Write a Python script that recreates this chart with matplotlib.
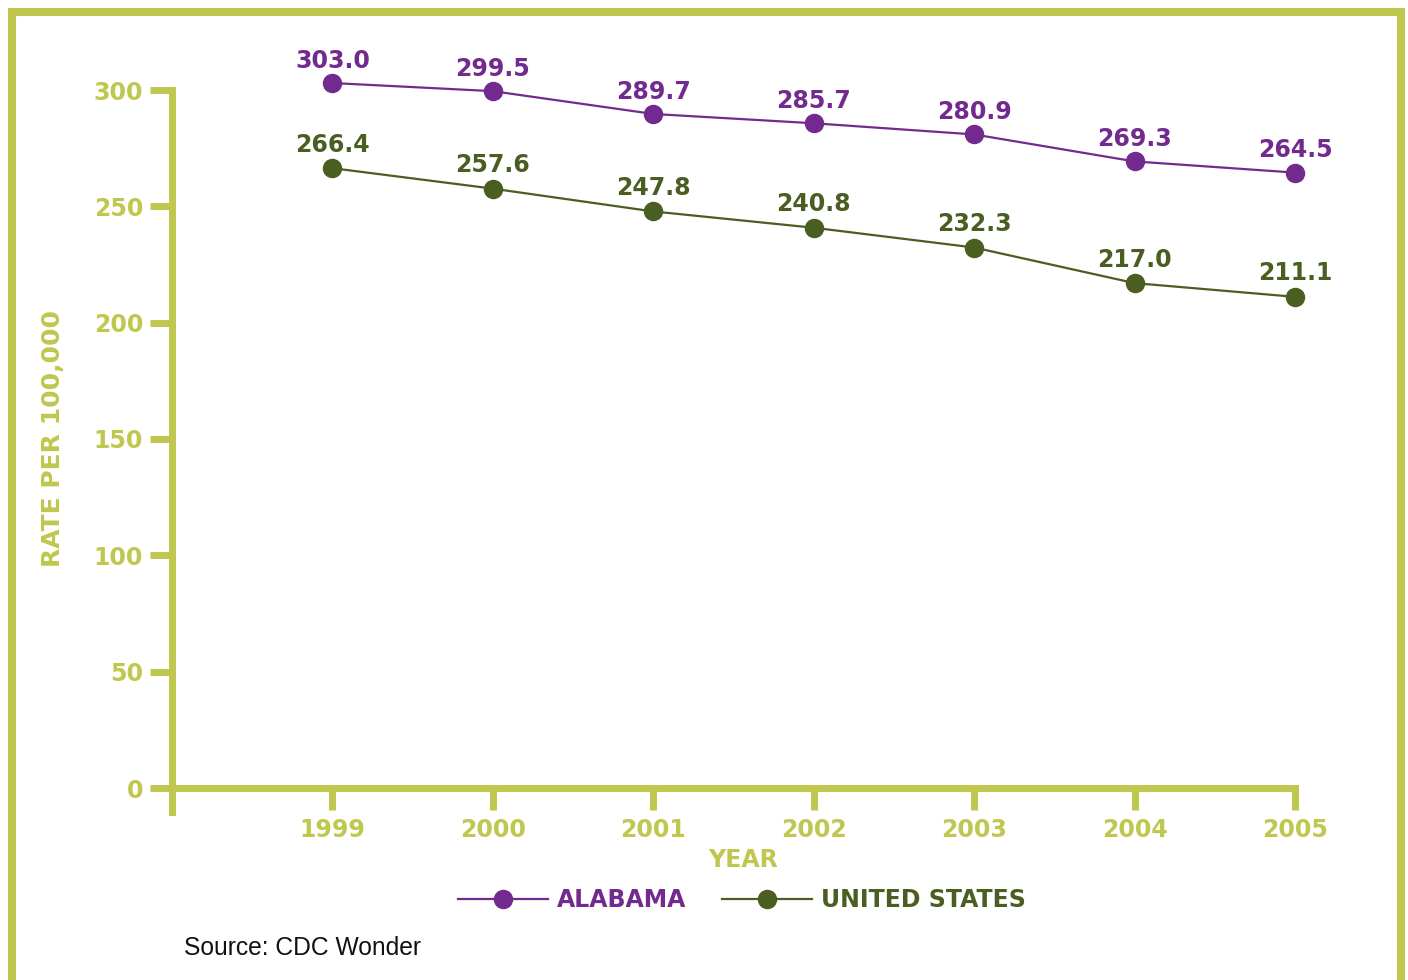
import matplotlib
matplotlib.use('Agg')
import matplotlib.pyplot as plt
from matplotlib.patches import Rectangle

# data
years = [1999, 2000, 2001, 2002, 2003, 2004, 2005]
alabama = [303.0, 299.5, 289.7, 285.7, 280.9, 269.3, 264.5]
united_states = [266.4, 257.6, 247.8, 240.8, 232.3, 217.0, 211.1]
y_ticks = [0, 50, 100, 150, 200, 250, 300]

LIME = '#BFC74F'
PURPLE = '#722A8E'
GREEN = '#4A5E22'
FONT = 'DejaVu Sans'
FS = 17

W, H = 1408, 980
fig = plt.figure(figsize=(W / 100, H / 100), dpi=100)
fig.patch.set_facecolor('white')

# outer frame
fig.patches.append(Rectangle((12 / W, 1 - 983 / H), 1389 / W, 971 / H,
                             transform=fig.transFigure, fill=False,
                             edgecolor=LIME, linewidth=5.8, clip_on=False))

ax = fig.add_axes([172 / W, 1 - 788 / H, (1295 - 172) / W, (788 - 90) / H])
ax.set_xlim(1998, 2005)
ax.set_ylim(0, 300)

ax.plot(years, alabama, color=PURPLE, lw=1.6, marker='o', ms=13,
        label='ALABAMA', clip_on=False, zorder=3)
ax.plot(years, united_states, color=GREEN, lw=1.6, marker='o', ms=13,
        label='UNITED STATES', clip_on=False, zorder=3)

for x, v in zip(years, alabama):
    ax.annotate(f'{v:.1f}', (x, v), xytext=(0, 16), textcoords='offset points',
                ha='center', va='center', color=PURPLE, fontsize=FS,
                fontweight='bold', family=FONT, annotation_clip=False)
for x, v in zip(years, united_states):
    ax.annotate(f'{v:.1f}', (x, v), xytext=(0, 17), textcoords='offset points',
                ha='center', va='center', color=GREEN, fontsize=FS,
                fontweight='bold', family=FONT, annotation_clip=False)

# axes styling
for s in ['top', 'right']:
    ax.spines[s].set_visible(False)
for s in ['left', 'bottom']:
    ax.spines[s].set_color(LIME)
    ax.spines[s].set_linewidth(5)
ax.spines['left'].set_bounds(-10.3, 300)
ax.spines['bottom'].set_bounds(1998, 2005)

ax.set_xticks(years)
ax.set_yticks(y_ticks)
ax.tick_params(axis='both', colors=LIME, length=15.8, width=5, labelsize=FS)
ax.tick_params(axis='y', pad=5)
ax.tick_params(axis='x', pad=6)
for lab in ax.get_xticklabels() + ax.get_yticklabels():
    lab.set_fontfamily(FONT)
    lab.set_fontweight('bold')

fig.text(53 / W, 1 - 438 / H, 'RATE PER 100,000', rotation=90, ha='center',
         va='center', color=LIME, fontsize=18, family=FONT, fontweight='bold')
fig.text(743 / W, 1 - 860 / H, 'YEAR', ha='center', va='center', color=LIME,
         fontsize=FS, family=FONT, fontweight='bold')

leg = fig.legend(loc='center', bbox_to_anchor=(742 / W, 1 - 900 / H), ncol=2,
                 frameon=False, handlelength=3.8, handletextpad=0.4,
                 columnspacing=1.5, labelcolor='linecolor', numpoints=1,
                 prop={'family': FONT, 'weight': 'bold', 'size': FS})

fig.text(184 / W, 1 - 948 / H, 'Source: CDC Wonder', ha='left', va='center',
         color='#111111', fontsize=17.7, family='Liberation Sans')

fig.savefig('out.png', dpi=100)
